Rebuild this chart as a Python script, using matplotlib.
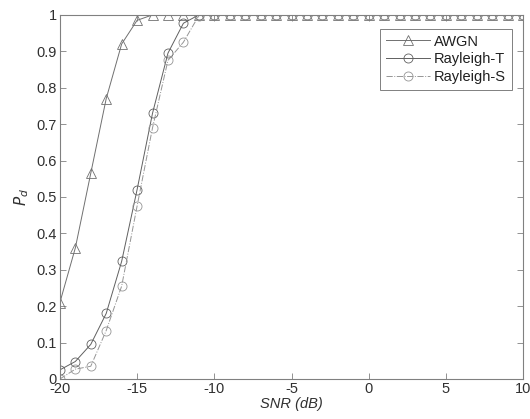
import matplotlib
matplotlib.use("Agg")
import matplotlib.pyplot as plt
import numpy as np

snr = list(range(-20, 11))
awgn = [0.21, 0.36, 0.565, 0.77, 0.92, 0.985] + [1.0] * 25
ray_t = [0.025, 0.048, 0.095, 0.18, 0.323, 0.52, 0.73, 0.895, 0.977, 1.0] + [1.0] * 21
ray_s = [0.0, 0.027, 0.035, 0.133, 0.255, 0.475, 0.69, 0.875, 0.925, 0.998] + [1.0] * 21

plt.rcParams['font.family'] = ['Liberation Sans', 'DejaVu Sans']
plt.rcParams['axes.unicode_minus'] = False
fig = plt.figure(figsize=(5.3, 4.19), dpi=100)
ax = fig.add_axes([0.113, 0.0955, 0.874, 0.869])

ax.plot(snr, awgn, '-', color='#707070', lw=0.7, marker='^', ms=7.5,
        mfc='none', mec='#707070', mew=0.6, label='AWGN')
ax.plot(snr, ray_t, '-', color='#606060', lw=0.7, marker='o', ms=6.5,
        mfc='none', mec='#606060', mew=0.6, label='Rayleigh-T')
ax.plot(snr, ray_s, '-.', color='#959595', lw=0.7, marker='o', ms=6.5,
        mfc='none', mec='#959595', mew=0.6, label='Rayleigh-S')

ax.set_xlim(-20, 10)
ax.set_ylim(0, 1)
ax.set_xticks([-20, -15, -10, -5, 0, 5, 10])
ax.set_yticks(np.arange(0, 1.01, 0.1))
ax.set_yticklabels(['0', '0.1', '0.2', '0.3', '0.4', '0.5', '0.6', '0.7', '0.8', '0.9', '1'])
ax.tick_params(direction='in', top=True, right=True, labelsize=10.5, colors='#303030',
               color='#808080', length=4, width=0.6, pad=2)
for s in ax.spines.values():
    s.set_color('#808080')
    s.set_linewidth(0.8)
ax.set_xlabel('SNR (dB)', fontsize=10.5, style='italic', color='#303030', labelpad=1)
ax.set_ylabel('$P_d$', fontsize=11, color='#303030', labelpad=4)

leg = ax.legend(loc='upper right', bbox_to_anchor=(0.976, 0.962), fontsize=10.5,
                fancybox=False, framealpha=1, edgecolor='#808080',
                handlelength=3.0, borderpad=0.4, labelspacing=0.25, handletextpad=0.3,
                borderaxespad=0)
leg.get_frame().set_linewidth(0.7)
for t in leg.get_texts():
    t.set_color('#202020')

fig.savefig('out.png', dpi=100)
